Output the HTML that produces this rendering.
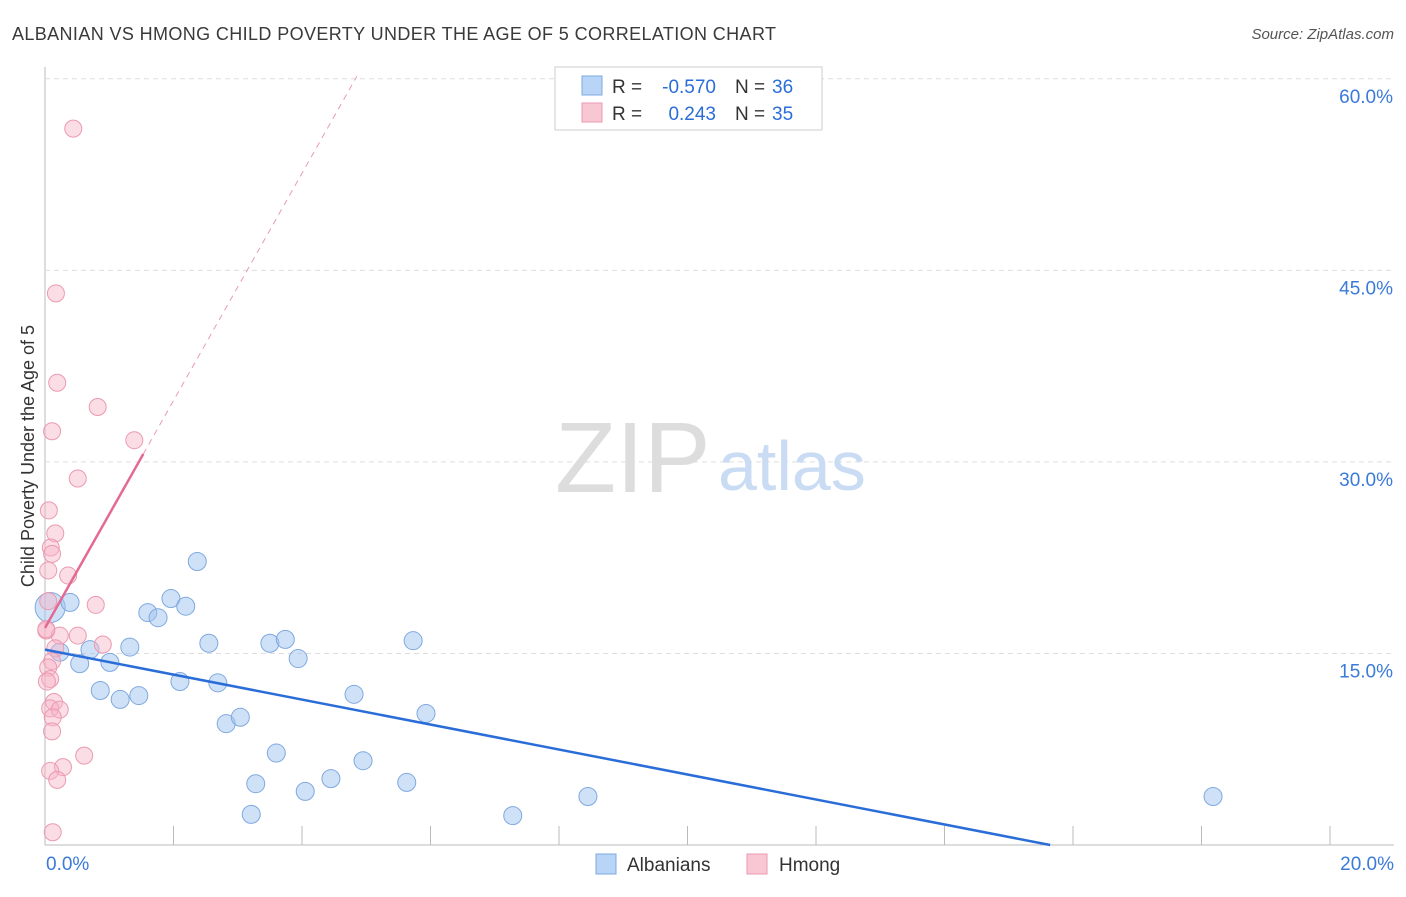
<!DOCTYPE html>
<html><head><meta charset="utf-8"><style>
body{margin:0;background:#fff;font-family:"Liberation Sans",sans-serif}
svg text{font-family:"Liberation Sans",sans-serif}
</style></head><body>
<svg id="c" width="1406" height="892">
<text x="12" y="40" font-size="18" fill="#3a3a3a" textLength="764">ALBANIAN VS HMONG CHILD POVERTY UNDER THE AGE OF 5 CORRELATION CHART</text>
<text x="1394" y="39" font-size="15" fill="#555" text-anchor="end" font-style="italic">Source: ZipAtlas.com</text>
<text transform="translate(34,456) rotate(-90)" font-size="18" fill="#333" text-anchor="middle">Child Poverty Under the Age of 5</text>
<g id="grid"></g>
<text x="555" y="492" font-size="100" fill="#ddd" font-family="Liberation Serif">ZIP</text>
<text x="718" y="490" font-size="70" fill="#c9dcf3">atlas</text>
<g id="marks"></g>
<g>
<rect x="555" y="67" width="267" height="63" fill="#fff" stroke="#ccc"/>
<rect x="582" y="76" width="20" height="19" fill="#b8d4f6" stroke="#7fa9e0"/>
<rect x="582" y="103" width="20" height="19" fill="#f9c6d4" stroke="#eb9ab1"/>
<text x="612" y="93" font-size="19" fill="#333">R =</text>
<text x="716" y="93" font-size="19" fill="#2a6dd8" text-anchor="end">-0.570</text>
<text x="735" y="93" font-size="19" fill="#333">N =</text>
<text x="772" y="93" font-size="19" fill="#2a6dd8">36</text>
<text x="612" y="120" font-size="19" fill="#333">R =</text>
<text x="716" y="120" font-size="19" fill="#2a6dd8" text-anchor="end">0.243</text>
<text x="735" y="120" font-size="19" fill="#333">N =</text>
<text x="772" y="120" font-size="19" fill="#2a6dd8">35</text>
</g>
<g>
<rect x="596" y="854" width="20" height="20" fill="#b8d4f6" stroke="#7fa9e0"/>
<text x="627" y="871" font-size="19" fill="#333">Albanians</text>
<rect x="747" y="854" width="20" height="20" fill="#f9c6d4" stroke="#eb9ab1"/>
<text x="779" y="871" font-size="19" fill="#333">Hmong</text>
</g>
</svg>
<script>
const xTicks=[0,2,4,6,8,10,12,14,16,18,20];
const yTicks=[15,30,45,60];
const albX=[0.08,0.39,0.23,0.54,0.70,0.86,1.01,1.17,1.32,1.46,1.60,1.76,1.96,2.10,2.19,2.37,2.55,2.69,2.82,3.04,3.21,3.28,3.50,3.60,3.74,3.94,4.05,4.45,4.81,4.95,5.63,5.73,5.93,7.28,8.45,18.18];
const albY=[18.6,19.0,15.1,14.2,15.3,12.1,14.3,11.4,15.5,11.7,18.2,17.8,19.3,12.8,18.7,22.2,15.8,12.7,9.5,10.0,2.4,4.8,15.8,7.2,16.1,14.6,4.2,5.2,11.8,6.6,4.9,16.0,10.3,2.3,3.8,3.8];
const hmX=[0.44,0.17,0.19,0.82,0.11,1.39,0.51,0.06,0.16,0.09,0.11,0.05,0.36,0.79,0.05,0.02,0.23,0.51,0.90,0.16,0.11,0.05,0.08,0.03,0.14,0.08,0.23,0.12,0.11,0.61,0.28,0.08,0.19,0.12,0.02];
const hmY=[56.1,43.2,36.2,34.3,32.4,31.7,28.7,26.2,24.4,23.3,22.8,21.5,21.1,18.8,19.1,16.8,16.4,16.4,15.7,15.4,14.4,13.9,13.0,12.8,11.2,10.7,10.6,10.0,8.9,7.0,6.1,5.8,5.1,1.0,16.9];
const albTrend=[15.3,-0.978];
const hmTrend=[17.0,8.9];
const X=v=>45+v*64.25, Y=v=>845-v*12.77;
const NS="http://www.w3.org/2000/svg";
function mk(t,a,p){const e=document.createElementNS(NS,t);for(const k in a)e.setAttribute(k,a[k]);p.appendChild(e);return e;}
const g=document.getElementById('grid'),m=document.getElementById('marks');
const ax=mk('line',{x1:45,y1:67,x2:45,y2:845,stroke:'#bbb'},g);


const bx=mk('line',{x1:45,y1:845,x2:1394,y2:845,stroke:'#bbb'},g);


xTicks.forEach(t=>{const l=mk('line',{x1:X(t),y1:826,x2:X(t),y2:845,stroke:'#bbb'},g);

});
yTicks.forEach(t=>{const l=mk('line',{x1:45,y1:Y(t),x2:1394,y2:Y(t),stroke:'#ddd','stroke-dasharray':'5,4'},g);


const tx=mk('text',{x:1393,y:Y(t)+24,'font-size':19,fill:'#3b7ad9','text-anchor':'end'},g);tx.textContent=t.toFixed(1)+'%';

});
[[0,46,'start'],[20,1394,'end']].forEach(([v,x,a])=>{const tx=mk('text',{x:x,y:870,'font-size':19,fill:'#3b7ad9','text-anchor':a},g);tx.textContent=v.toFixed(1)+'%';

});
albX.forEach((x,i)=>{const c=mk('circle',{cx:X(x),cy:Y(albY[i]),r:i==0?15:9,fill:'rgba(160,195,240,0.5)',stroke:'#7fa9e0','stroke-width':1},m);

});
hmX.forEach((x,i)=>{const c=mk('circle',{cx:X(x),cy:Y(hmY[i]),r:8.5,fill:'rgba(247,180,200,0.45)',stroke:'#eb9ab1','stroke-width':1},m);

});
const xe=-albTrend[0]/albTrend[1];
const bl=mk('line',{x1:X(0),y1:Y(albTrend[0]),x2:X(xe),y2:Y(0),stroke:'#2a6dd8','stroke-width':2.5},m);


const ps=mk('line',{x1:X(0),y1:Y(hmTrend[0]),x2:X(1.53),y2:Y(hmTrend[0]+hmTrend[1]*1.53),stroke:'#e36a93','stroke-width':2.5},m);


const xd=(60.2-hmTrend[0])/hmTrend[1];
const pd=mk('line',{x1:X(1.53),y1:Y(hmTrend[0]+hmTrend[1]*1.53),x2:X(xd),y2:Y(60.2),stroke:'#eb9ab1','stroke-width':1,'stroke-dasharray':'6,5'},m);


</script>
</body></html>
